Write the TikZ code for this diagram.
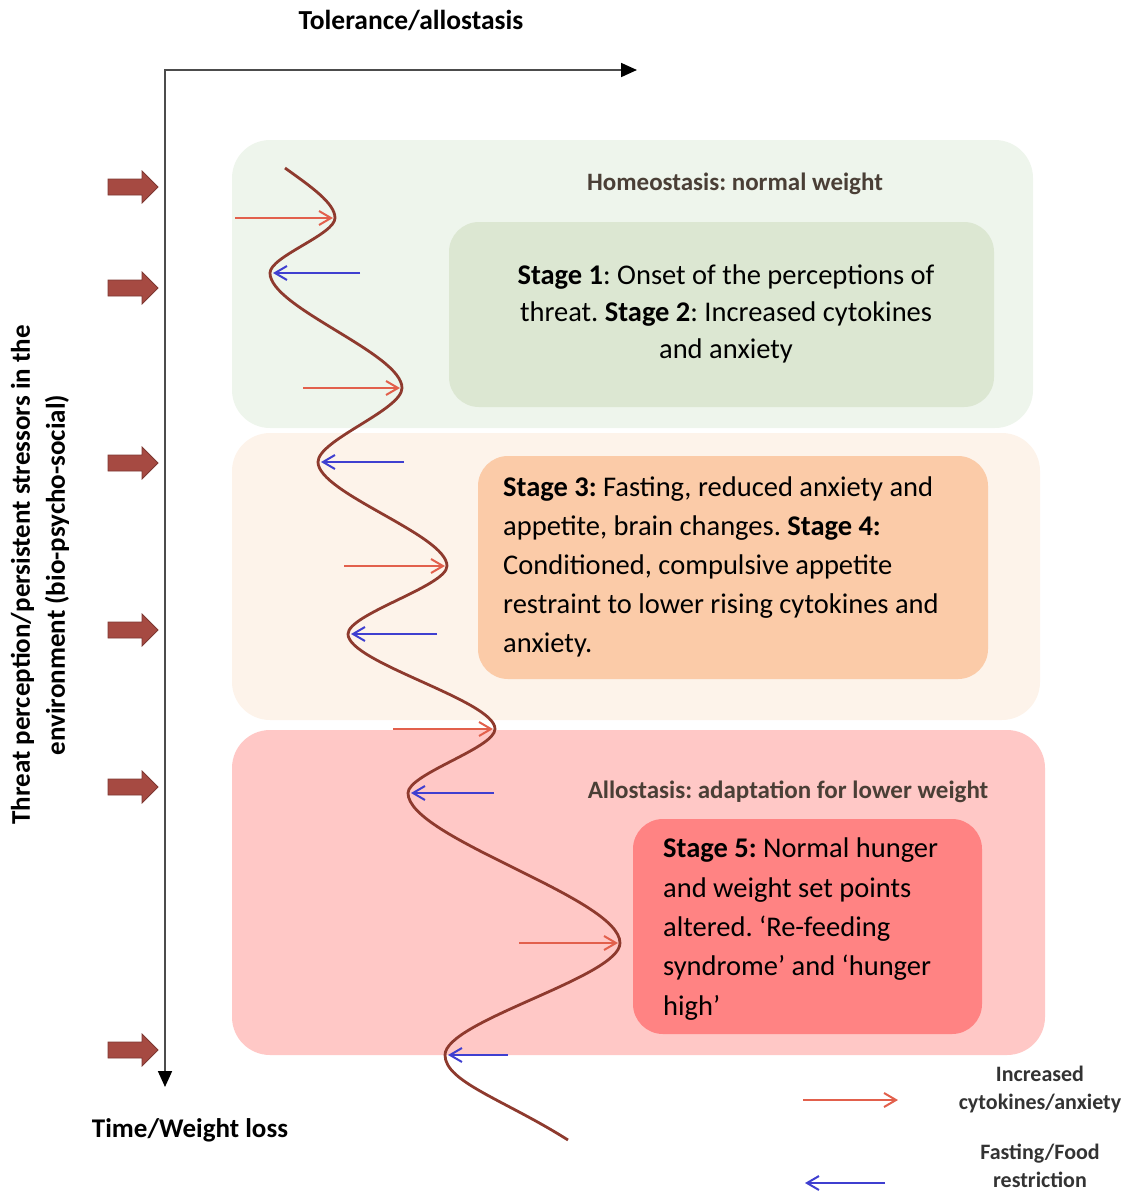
\documentclass[tikz,border=0pt]{standalone}
\usepackage{fontspec}
\setmainfont{Carlito}
\frenchspacing
\usetikzlibrary{arrows.meta}
\definecolor{wavebrown}{HTML}{8E3A2E}
\definecolor{threatred}{HTML}{A64A42}
\definecolor{upred}{HTML}{E2604C}
\definecolor{downblue}{HTML}{3F3FD0}
\definecolor{greenband}{HTML}{EEF5EC}
\definecolor{orangeband}{HTML}{FDF3EA}
\definecolor{pinkband}{HTML}{FFC8C6}
\definecolor{greenbox}{HTML}{DCE7D2}
\definecolor{peachbox}{HTML}{FBCBA8}
\definecolor{redbox}{HTML}{FF8383}
\definecolor{titlegray}{HTML}{4A3F36}
\tikzstyle{BAND}+=[rounded corners=38pt,inner sep=0pt]
\tikzstyle{STAGE}+=[rounded corners=30pt,inner sep=0pt]
\tikzstyle{TXT}+=[inner sep=0pt,font=\fontsize{28.5}{39}\selectfont]
\tikzstyle{TITLE}+=[font=\fontsize{25}{30}\selectfont\bfseries,text=titlegray]
\tikzstyle{RA}+=[upred,line width=2pt,-{Straight Barb[length=12pt,width=14pt]}]
\tikzstyle{BA}+=[downblue,line width=2pt,-{Straight Barb[length=12pt,width=14pt]}]

\begin{document}
\begin{tikzpicture}[x=1pt,y=-1pt]
    \useasboundingbox (0,0) rectangle (1129,1191);

    % bands
    \node[BAND,fill=greenband,minimum width=801pt,minimum height=288pt] (homeo) at (632.5,284) {};
    \node[BAND,fill=orangeband,minimum width=808pt,minimum height=287pt] (mid) at (636,576.5) {};
    \node[BAND,fill=pinkband,minimum width=813pt,minimum height=325pt] (allo) at (638.5,892.5) {};

    \node[TITLE] (homeotitle) at (735,184) {Homeostasis: normal weight};
    \node[TITLE] (allotitle) at (788,792) {Allostasis: adaptation for lower weight};

    % stage boxes
    \node[STAGE,fill=greenbox,minimum width=545pt,minimum height=185pt] (s12) at (721.5,314.5) {};
    \node[STAGE,fill=peachbox,minimum width=510pt,minimum height=223pt] (s34) at (733,567.5) {};
    \node[STAGE,fill=redbox,minimum width=349pt,minimum height=215pt] (s5) at (807.5,926.5) {};
    \node[TXT,align=center,font=\fontsize{28.5}{37}\selectfont] (s12text) at (726,314)
        {\textbf{Stage 1}: Onset of the perceptions of\\threat. \textbf{Stage 2}: Increased cytokines\\and anxiety};
    \node[TXT,anchor=west,align=left] (s34text) at (503,567)
        {\textbf{Stage 3:} Fasting, reduced anxiety and\\appetite, brain changes. \textbf{Stage 4:}\\Conditioned, compulsive appetite\\restraint to lower rising cytokines and\\anxiety.};
    \node[TXT,anchor=west,align=left,font=\fontsize{28.5}{39.3}\selectfont] (s5text) at (663,929)
        {\textbf{Stage 5:} Normal hunger\\and weight set points\\altered. `Re-feeding\\syndrome' and `hunger\\high'};

    % axes
    \coordinate (O) at (165,70);
    \coordinate (xend) at (637,70);
    \coordinate (yend) at (165,1087);
    \draw[line width=1.8pt,black!70,{Triangle[length=16pt,width=14pt,black]}-{Triangle[length=16pt,width=14pt,black]}] (xend) -- (O) -- (yend);
    \node[font=\fontsize{27.5}{32}\selectfont\bfseries] (tol) at (411,20) {Tolerance/allostasis};
    \node[font=\fontsize{27}{32}\selectfont\bfseries] (time) at (190,1130) {Time/Weight loss};
    \node[font=\fontsize{27}{35}\selectfont\bfseries,rotate=90,align=center] (threat) at (40,575)
        {Threat perception/persistent stressors in the\\environment (bio-psycho-social)};

    % stressor arrows
    \foreach \y in {187,288,463,630,787,1050}
        \filldraw[fill=threatred,draw=threatred!75!black,line width=0.8pt]
            (108,\y-8) -- (142,\y-8) -- (142,\y-16) -- (158,\y) -- (142,\y+16) -- (142,\y+8) -- (108,\y+8) -- cycle;

    % wave extremes
    \coordinate (e0) at (285,168);
    \coordinate (e1) at (335,218);
    \coordinate (e2) at (270,273);
    \coordinate (e3) at (402,388);
    \coordinate (e4) at (318,462);
    \coordinate (e5) at (447,566);
    \coordinate (e6) at (348,634);
    \coordinate (e7) at (495,729);
    \coordinate (e8) at (408,793);
    \coordinate (e9) at (620,943);
    \coordinate (e10) at (445,1055);
    \coordinate (e11) at (568,1140);

    \draw[wavebrown,line width=2.8pt] (e0) .. controls (310,186) and (335,203) .. (e1)
        .. controls (335,234.5) and (270,256.5) .. (e2)
        .. controls (270,307.5) and (402,353.5) .. (e3)
        .. controls (402,410) and (318,440) .. (e4)
        .. controls (318,493) and (447,535) .. (e5)
        .. controls (447,586) and (348,614) .. (e6)
        .. controls (348,662.5) and (495,700.5) .. (e7)
        .. controls (495,748) and (408,774) .. (e8)
        .. controls (408,838) and (620,898) .. (e9)
        .. controls (620,977) and (445,1021) .. (e10)
        .. controls (445,1082) and (505,1100) .. (e11);

    % cytokine / fasting arrows
    \foreach \e/\x in {1/235,3/303,5/344,7/393,9/519}{
        \coordinate (r\e) at (\x,0 |- e\e);
        \draw[RA] (r\e) -- ([xshift=-2pt]e\e);
    }
    \foreach \e/\x in {2/360,4/404,6/437,8/494,10/508}{
        \coordinate (b\e) at (\x,0 |- e\e);
        \draw[BA] (b\e) -- ([xshift=3pt]e\e);
    }

    % legend
    \coordinate (la) at (803,1100);
    \coordinate (lb) at (898,1100);
    \coordinate (lc) at (885,1183);
    \coordinate (ld) at (805,1183);
    \draw[RA] (la) -- (lb);
    \draw[BA] (lc) -- (ld);
    \node[font=\fontsize{22}{28}\selectfont\bfseries,text=black!80,align=center] (lup) at (1040,1089) {Increased\\cytokines/anxiety};
    \node[font=\fontsize{22}{28}\selectfont\bfseries,text=black!80,align=center] (ldown) at (1040,1166) {Fasting/Food\\restriction};
\end{tikzpicture}
\end{document}
